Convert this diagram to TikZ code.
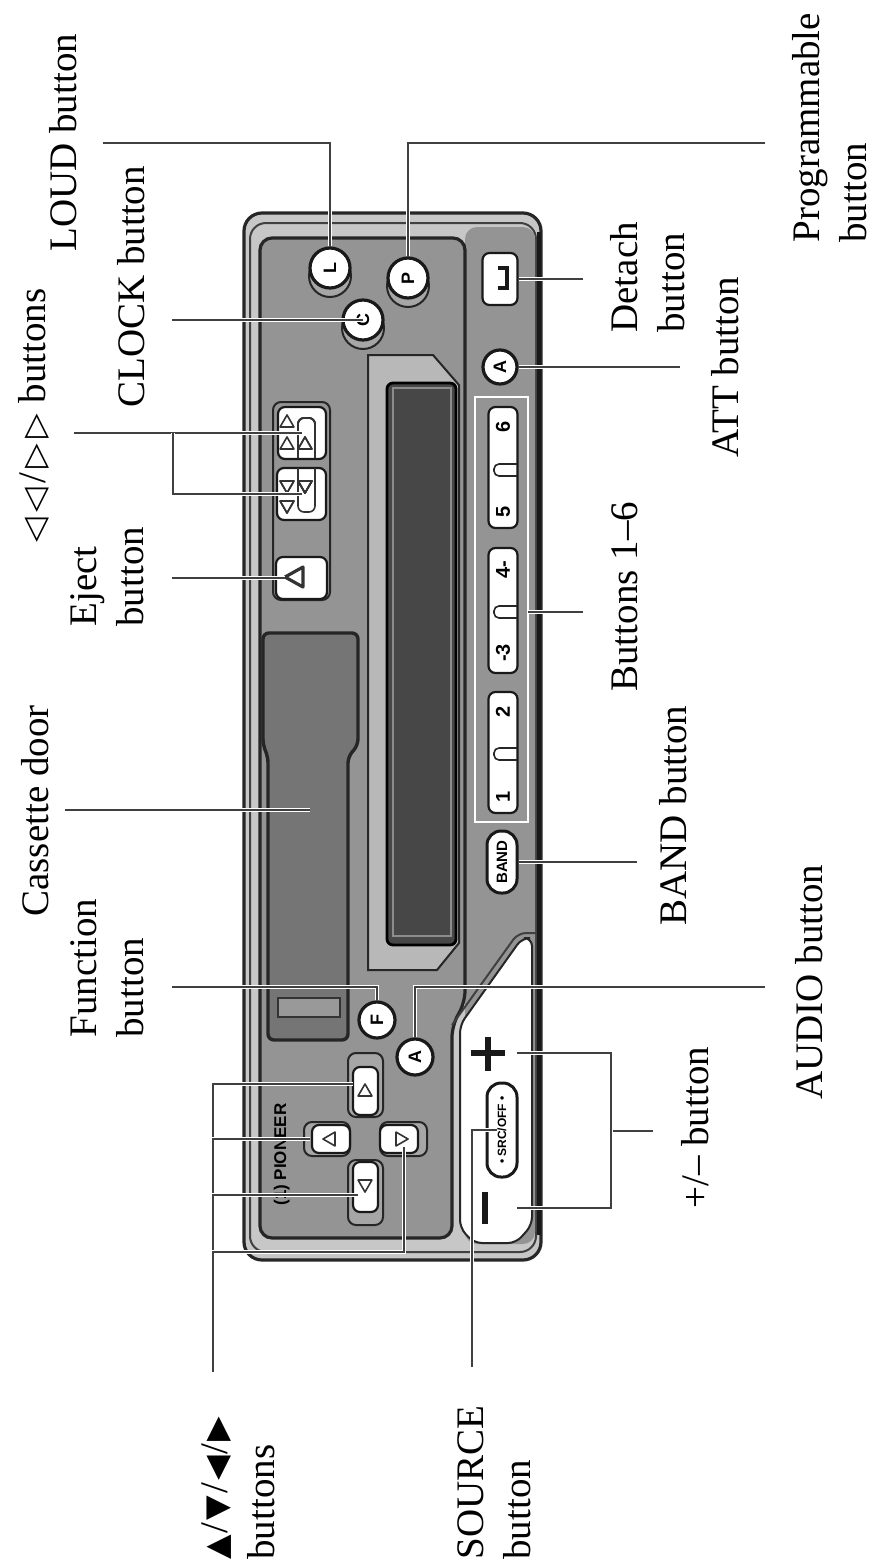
\documentclass[tikz,border=0pt]{standalone}
\usepackage{fontspec}
\setmainfont{Liberation Serif}
\setsansfont{Liberation Sans}
\newfontfamily\symfont[Scale=0.82]{DejaVu Sans}
\usepackage{tikz}
\usepackage{xcolor}

\newcommand{\btntri}[4][tri]{\draw[#1] ([shift={(#4:8)}]#2,#3) -- ([shift={(#4+120:8)}]#2,#3) -- ([shift={(#4+240:8)}]#2,#3) -- cycle;}

\begin{document}
\begin{tikzpicture}[x=0.5pt,y=-0.5pt,
  lbl/.style={rotate=90,inner sep=0pt,align=left,font=\fontsize{19.5}{23.5}\selectfont},
  leader/.style={line width=0.9pt,draw=black!75,preaction={draw=white,line width=2.4pt}},
  btnbox/.style={draw=black!90,line width=1.1pt,fill=white,rounded corners=3.5pt,inner sep=0pt},
  roundbtn/.style={circle,draw=black!90,line width=1.6pt,fill=white,inner sep=0pt,minimum size=18pt,font=\sffamily\bfseries\fontsize{9}{9}\selectfont},
  wellbox/.style={draw=black!85,line width=1pt,fill=black!42,rounded corners=4pt},
  tinytxt/.style={rotate=90,inner sep=0pt,font=\sffamily\bfseries\fontsize{10}{10}\selectfont},
  tri/.style={draw=black!80,line width=0.8pt,line join=round}]
  \useasboundingbox (0,0) rectangle (874,1563);

  % body and panel
  \draw[line width=1.6pt,draw=black!85,fill=black!22,rounded corners=9pt] (244,213) rectangle (541,1260);
  \draw[line width=1pt,draw=black!75,rounded corners=8pt] (250,223) rectangle (536,1252);
  \fill[black!42,rounded corners=6pt] (465,227) rectangle (535,1244);
  \draw[line width=1.6pt,draw=black!85,fill=black!42,rounded corners=6pt] (260,238) -- (465,238) -- (465,1003) -- (452,1025) -- (452,1238) -- (260,1238) -- cycle;
  \draw[line width=2pt,draw=black!90] (539,232) -- (539,1235);

  % white part
  \draw[line width=1pt,draw=black!85,fill=white,rounded corners=4pt] (460,1025) -- (522,938) -- (532,938) -- (532,1225) -- (516,1243) -- (474,1243) -- (460,1228) -- cycle;
  \draw[line width=1pt,draw=black!75,rounded corners=4pt] (452,1025) -- (518,933) -- (536,933);

  % cassette door
  \draw[line width=1.7pt,draw=black!85,fill=black!54,rounded corners=3pt] (263,633) -- (358,633) -- (358,745) -- (348,757) -- (348,1040) -- (268,1040) -- (268,757) -- (263,745) -- cycle;
  \draw[line width=1pt,draw=black!80,fill=black!40] (278,998) rectangle (340,1017);

  % display
  \draw[line width=1pt,draw=black!85,fill=black!28] (368,355) -- (433,355) -- (459,385) -- (459,943) -- (437,970) -- (368,970) -- cycle;
  \draw[line width=1.4pt,draw=black,fill=black!72,rounded corners=3pt] (387,383) rectangle (456,945);
  \draw[line width=0.6pt,draw=black!45] (393,388) rectangle (451,936);

  % round buttons
  \foreach \bx/\by in {330/268,408/278,363/320}
    \draw[line width=1pt,draw=black!85,fill=black!35] (\bx,\by+8) circle (10.5pt);
  \node[roundbtn,minimum size=20pt] (loud) at (330,268) {\rotatebox{90}{L}};
  \node[roundbtn,minimum size=20pt] (prog) at (408,278) {\rotatebox{90}{P}};
  \node[roundbtn,minimum size=20pt] (clock) at (363,320) {\rotatebox{90}{C}};
  \node[roundbtn,minimum size=17pt] (att) at (500,367) {\rotatebox{90}{A}};
  \node[roundbtn] (func) at (377,1020) {\rotatebox{90}{F}};
  \node[roundbtn] (audio) at (415,1057) {\rotatebox{90}{A}};

  % skip and eject
  \draw[wellbox] (273,402) rectangle (330,600);
  \node[btnbox,minimum width=24pt,minimum height=26pt] (skipA) at (302,433) {};
  \node[btnbox,minimum width=24.5pt,minimum height=26pt] (skipB) at (301.5,494) {};
  \node[btnbox,minimum width=25.5pt,minimum height=21pt] (eject) at (301.5,578) {};
  \foreach \ty in {423,445} \btntri{287}{\ty}{-90}
  \btntri{305}{445}{-90}
  \foreach \ty in {485,505} \btntri{287}{\ty}{90}
  \btntri{305}{485}{90}
  \draw[tri,rounded corners=3pt] (298,458) -- (298,418) -- (315,418) -- (315,458);
  \draw[tri,rounded corners=3pt] (298,468) -- (298,512) -- (315,512) -- (315,468);
  \draw[tri,line width=1.6pt,fill=white] (285,577) -- (303,567) -- (303,587) -- cycle;

  % right strip buttons
  \node[btnbox,minimum width=17.5pt,minimum height=26pt] (detach) at (500,279) {};
  \draw[line width=1.6pt,draw=black!90] (498,268) -- (507,268) -- (507,288) -- (498,288);
  \draw[line width=0.9pt,draw=white,fill=black!42] (475,397) rectangle (528,822);
  \node[btnbox,minimum width=14.5pt,minimum height=60.5pt] (btnA) at (503,467.5) {};
  \node[btnbox,minimum width=14.5pt,minimum height=62.5pt] (btnB) at (503,610.5) {};
  \node[btnbox,minimum width=14.5pt,minimum height=60.5pt] (btnC) at (503,752.5) {};
  \foreach \py in {470,612,754}
    \draw[line width=0.8pt,draw=black!85,rounded corners=2.5pt] (517,\py-6) -- (494,\py-6) -- (494,\py+6) -- (517,\py+6);
  \node[tinytxt] (num6) at (503,427) {6};
  \node[tinytxt] (num5) at (503,512) {5};
  \node[tinytxt] (num4) at (503,570) {4-};
  \node[tinytxt] (num3) at (503,653) {-3};
  \node[tinytxt] (num2) at (503,712) {2};
  \node[tinytxt] (num1) at (503,797) {1};
  \node[btnbox,line width=1.5pt,rounded corners=7pt,minimum width=15pt,minimum height=31pt] (band) at (502,862) {};
  \node[tinytxt,font=\sffamily\bfseries\fontsize{7.5}{7.5}\selectfont] (bandtxt) at (502,862) {BAND};

  % volume area
  \draw[line width=2.6pt,draw=black!90] (488,1037) -- (488,1071) (471,1053) -- (505,1053);
  \draw[line width=2.6pt,draw=black!90] (485,1192) -- (485,1224);
  \node[btnbox,line width=1.5pt,rounded corners=7pt,minimum width=15pt,minimum height=47pt] (source) at (502,1130) {};
  \node[tinytxt,font=\sffamily\bfseries\fontsize{6}{6}\selectfont] (sourcetxt) at (502,1130) {• SRC/OFF •};

  % arrow pad
  \draw[wellbox,fill=black!35] (348,1053) rectangle (383,1117);
  \draw[wellbox,fill=black!35] (348,1160) rectangle (383,1225);
  \draw[wellbox,fill=black!35] (304,1122) rectangle (350,1156);
  \draw[wellbox,fill=black!35] (380,1122) rectangle (427,1156);
  \node[btnbox,minimum width=12.5pt,minimum height=24pt] (padUp) at (365.5,1091) {};
  \node[btnbox,minimum width=12.5pt,minimum height=25pt] (padDown) at (365.5,1187) {};
  \node[btnbox,minimum width=19pt,minimum height=14pt] (padLeft) at (331,1139) {};
  \node[btnbox,minimum width=19pt,minimum height=14pt] (padRight) at (399,1139) {};
  \btntri{365}{1092}{-90}
  \btntri{365}{1184}{90}
  \btntri{331}{1139}{180}
  \btntri{400}{1139}{0}
  \node[tinytxt,anchor=base west,font=\sffamily\bfseries\fontsize{8.5}{8.5}\selectfont] (logo) at (286,1206) {(1) PIONEER};

  % labels
  \node[lbl,anchor=base west] (loudlbl) at (76,252) {LOUD button};
  \node[lbl,anchor=base west] (clocklbl) at (144,408) {CLOCK button};
  \node[lbl,anchor=base west] (skiplbl) at (45,543) {{\symfont ◁\kern3pt◁}\kern2pt/\kern2pt{\symfont ▷\kern3pt▷}\kern5pt buttons};
  \node[lbl,anchor=south west] (ejectlbl) at (144,627) {Eject\\button};
  \node[lbl,anchor=base west] (doorlbl) at (48,917) {Cassette door};
  \node[lbl,anchor=south west] (funclbl) at (144,1038) {Function\\button};
  \node[lbl,anchor=south west] (padlbl) at (275,1560) {{\symfont ▲}\kern1pt/\kern1pt{\symfont ▼}\kern1pt/\kern1pt{\symfont ◀}\kern1pt/\kern1pt{\symfont ▶}\\buttons};
  \node[lbl,anchor=south west] (sourcelbl) at (531,1560) {SOURCE\\button};
  \node[lbl,anchor=south west] (proglbl) at (867,243) {Programmable\\button};
  \node[lbl,anchor=south west] (detachlbl) at (685,333) {Detach\\button};
  \node[lbl,anchor=base west] (attlbl) at (738,458) {ATT button};
  \node[lbl,anchor=base west] (setlbl) at (637,692) {Buttons 1–6};
  \node[lbl,anchor=base west] (bandlbl) at (686,926) {BAND button};
  \node[lbl,anchor=base west] (audiolbl) at (822,1100) {AUDIO button};
  \node[lbl,anchor=base west] (volumelbl) at (708,1209) {+/– button};

  % leader ends
  \coordinate (loudC) at (103,143);
  \coordinate (progC) at (765,143);
  \coordinate (clockC) at (172,320);
  \coordinate (skipC) at (74,433);
  \coordinate (skipJ) at (173,433);
  \coordinate (ejectC) at (172,578);
  \coordinate (ejectEnd) at (285,578);
  \coordinate (detachC) at (583,279);
  \coordinate (attC) at (680,367);
  \coordinate (setC) at (583,612);
  \coordinate (setEnd) at (528,612);
  \coordinate (doorC) at (65,810);
  \coordinate (doorEnd) at (310,810);
  \coordinate (bandC) at (637,862);
  \coordinate (funcC) at (172,987);
  \coordinate (audioC) at (765,987);
  \coordinate (padC) at (213,1372);
  \coordinate (upEnd) at (353,1084);
  \coordinate (leftEnd) at (310,1139);
  \coordinate (downEnd) at (358,1195);
  \coordinate (padKnee) at (404,1252);
  \coordinate (rightEnd) at (404,1147);
  \coordinate (sourceC) at (472,1367);
  \coordinate (sourceEnd) at (497,1130);
  \coordinate (volC) at (653,1131);
  \coordinate (volJ) at (611,1131);
  \coordinate (plusKnee) at (611,1053);
  \coordinate (minusKnee) at (611,1208);
  \coordinate (plusEnd) at (517,1053);
  \coordinate (minusEnd) at (517,1208);

  % leaders
  \draw[leader] (loudC) -| (loud.north);
  \draw[leader] (progC) -| (prog.north);
  \draw[leader] (clockC) -- (clock.center);
  \draw[leader] (skipC) -- (skipA.center);
  \draw[leader] (skipJ) |- (skipB.center);
  \draw[leader] (ejectC) -- (ejectEnd);
  \draw[leader] (detachC) -- (detach.east);
  \draw[leader] (attC) -- (att.east);
  \draw[leader] (setC) -- (setEnd);
  \draw[leader] (doorC) -- (doorEnd);
  \draw[leader] (bandC) -- (band.east);
  \draw[leader] (funcC) -| (func.north);
  \draw[leader] (audioC) -| (audio.north);
  \draw[leader] (padC) |- (upEnd);
  \draw[leader] (padC) |- (leftEnd);
  \draw[leader] (padC) |- (downEnd);
  \draw[leader] (padC) |- (padKnee) -- (rightEnd);
  \draw[leader] (sourceC) |- (sourceEnd);
  \draw[leader] (volC) -- (volJ);
  \draw[leader] (plusEnd) -- (plusKnee) -- (minusKnee) -- (minusEnd);
\end{tikzpicture}
\end{document}
